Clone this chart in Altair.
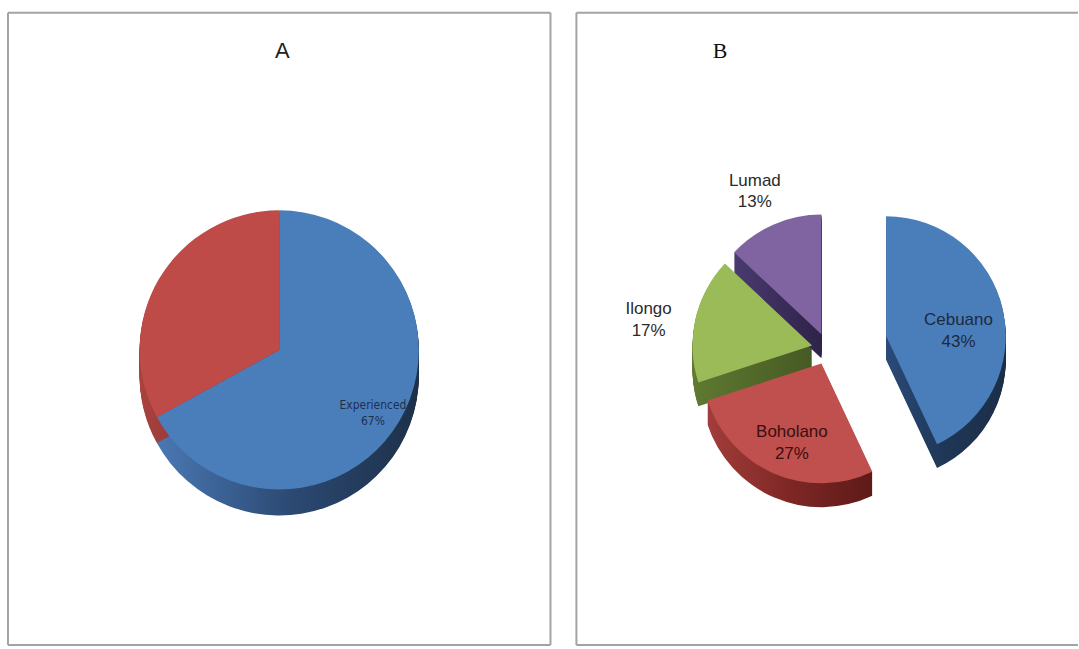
import altair as alt
import pandas as pd

# ---- data ----
a_groups = ["Experienced", "Inexperienced"]
a_shares = [67, 33]

b_groups = ["Cebuano", "Boholano", "Ilongo", "Lumad"]
b_shares = [43, 27, 17, 13]

# ---- styles ----
a_top = ["#4a7ebb", "#be4b48"]
a_side = [["#4a78b4", "#2c4a74", "#1d3049"], ["#a8423f", "#8e3331", "#7a2826"]]
b_top = ["#4a7ebb", "#c0504d", "#9bbb59", "#8064a2"]
b_side = [["#2a4a78", "#1f3655", "#1b2e48"],
          ["#a23d3a", "#7e2725", "#5e1a18"],
          ["#5f7a32", "#52692a", "#465a24"],
          ["#4a3b70", "#3b2e5c", "#2e2348"]]
b_text = ["#1c2a3e", "#3a0e0e", "#2a2a2a", "#2a2a2a"]
BORDER = "#a3a3a3"

W_A, W_B, H = 546, 502, 636

a_df = pd.DataFrame({"group": a_groups, "share": a_shares, "order": list(range(len(a_groups)))})
b_df = pd.DataFrame({"group": b_groups, "share": b_shares, "order": list(range(len(b_groups)))})
dummy = pd.DataFrame({"i": [0]})


def geom(df, cx, cy, explode_expr):
    return (
        alt.Chart(df)
        .transform_joinaggregate(total="sum(share)")
        .transform_window(cum="sum(share)", sort=[alt.SortField("order")], frame=[None, 0])
        .transform_calculate(start="2*PI*(datum.cum - datum.share)/datum.total")
        .transform_calculate(end="2*PI*datum.cum/datum.total")
        .transform_calculate(mid="(datum.start + datum.end)/2")
        .transform_calculate(ex=explode_expr)
        .transform_calculate(px=f"{cx} + datum.ex*sin(datum.mid)")
        .transform_calculate(py=f"{cy} - datum.ex*cos(datum.mid)")
    )


def grad(stops):
    n = len(stops) - 1
    return alt.LinearGradient(
        gradient="linear",
        stops=[alt.GradientStop(color=c, offset=i / n) for i, c in enumerate(stops)],
        x1=0, x2=1, y1=0, y2=0,
    )


def pie_layers(df, groups, cx, cy, r, depth, explode_expr, tops, sides):
    layers = []
    steps = list(range(depth, 0, -1))
    for g, side in zip(groups, sides):
        for k in steps:
            layers.append(
                geom(df, cx, cy, explode_expr)
                .transform_filter(alt.datum.group == g)
                .transform_calculate(pyk=f"datum.py + {k}")
                .mark_arc(radius=r, fill=grad(side))
                .encode(
                    x=alt.X("px:Q", scale=None, axis=None),
                    y=alt.Y("pyk:Q", scale=None, axis=None),
                    theta=alt.Theta("start:Q", scale=None),
                    theta2=alt.Theta2("end:Q"),
                )
            )
    for g, top in zip(groups, tops):
        layers.append(
            geom(df, cx, cy, explode_expr)
            .transform_filter(alt.datum.group == g)
            .mark_arc(radius=r, fill=top)
            .encode(
                x=alt.X("px:Q", scale=None, axis=None),
                y=alt.Y("py:Q", scale=None, axis=None),
                theta=alt.Theta("start:Q", scale=None),
                theta2=alt.Theta2("end:Q"),
            )
        )
    return layers


def borders(w, h, right=True):
    rules = [
        alt.Chart(dummy).mark_rule(color=BORDER, strokeWidth=2).encode(
            x=alt.value(1), y=alt.value(1), y2=alt.value(h - 1)),
        alt.Chart(dummy).mark_rule(color=BORDER, strokeWidth=2).encode(
            x=alt.value(1), x2=alt.value(w + 2 if not right else w - 1), y=alt.value(1)),
        alt.Chart(dummy).mark_rule(color=BORDER, strokeWidth=2).encode(
            x=alt.value(1), x2=alt.value(w + 2 if not right else w - 1), y=alt.value(h - 1)),
    ]
    if right:
        rules.append(alt.Chart(dummy).mark_rule(color=BORDER, strokeWidth=2).encode(
            x=alt.value(w - 1), y=alt.value(1), y2=alt.value(h - 1)))
    return rules


# ---- Panel A ----
ACX, ACY, AR = 273, 339, 140
a_layers = borders(W_A, H)
a_layers += pie_layers(a_df, a_groups, ACX, ACY, AR, 26, "0", a_top, a_side)
a_layers.append(
    geom(a_df, ACX, ACY, "0")
    .transform_filter(alt.datum.group == "Experienced")
    .transform_calculate(lx=f"datum.px + {AR * 0.78}*sin(datum.mid)")
    .transform_calculate(ly=f"datum.py - {AR * 0.78}*cos(datum.mid)")
    .transform_calculate(txt="datum.group + '\\n' + datum.share + '%'")
    .mark_text(lineBreak="\n", font="DejaVu Sans Condensed, Liberation Sans", fontSize=12,
               lineHeight=16, color="#1f2f4f", baseline="middle")
    .encode(x=alt.X("lx:Q", scale=None, axis=None), y=alt.Y("ly:Q", scale=None, axis=None),
            text="txt:N")
)
a_layers.append(
    alt.Chart(dummy).mark_text(text="A", font="Liberation Sans", fontSize=22, color="#222222",
                               baseline="middle").encode(x=alt.value(276), y=alt.value(39))
)
panel_a = alt.layer(*a_layers).properties(width=W_A, height=H)

# ---- Panel B ----
BCX, BCY, BR = 253, 338, 120
b_explode = "datum.group == 'Cebuano' ? 60 : 16"
b_layers = borders(W_B, H, right=False)
b_layers += pie_layers(b_df, b_groups, BCX, BCY, BR, 24, b_explode, b_top, b_side)
b_layers.append(
    geom(b_df, BCX, BCY, b_explode)
    .transform_calculate(lr=f"datum.share >= 25 ? {BR * 0.62} : {BR + 48}")
    .transform_calculate(lx="datum.px + datum.lr*sin(datum.mid)")
    .transform_calculate(ly="datum.py - datum.lr*cos(datum.mid)")
    .transform_calculate(txt="datum.group + '\\n' + datum.share + '%'")
    .mark_text(lineBreak="\n", font="Liberation Sans", fontSize=17, lineHeight=22,
               baseline="middle")
    .encode(
        x=alt.X("lx:Q", scale=None, axis=None),
        y=alt.Y("ly:Q", scale=None, axis=None),
        text="txt:N",
        color=alt.Color("group:N", scale=alt.Scale(domain=b_groups, range=b_text), legend=None),
    )
)
b_layers.append(
    alt.Chart(dummy).mark_text(text="B", font="Liberation Serif", fontSize=22, color="#111111",
                               baseline="middle").encode(x=alt.value(145), y=alt.value(39))
)
panel_b = alt.layer(*b_layers).properties(width=W_B, height=H)

chart = (
    alt.hconcat(panel_a, panel_b, spacing=24)
    .properties(padding={"left": 7, "top": 11, "right": 0, "bottom": 2}, background="white")
    .configure_view(stroke=None)
)

chart.save("out.html", embed_options={"renderer": "svg", "actions": False})
